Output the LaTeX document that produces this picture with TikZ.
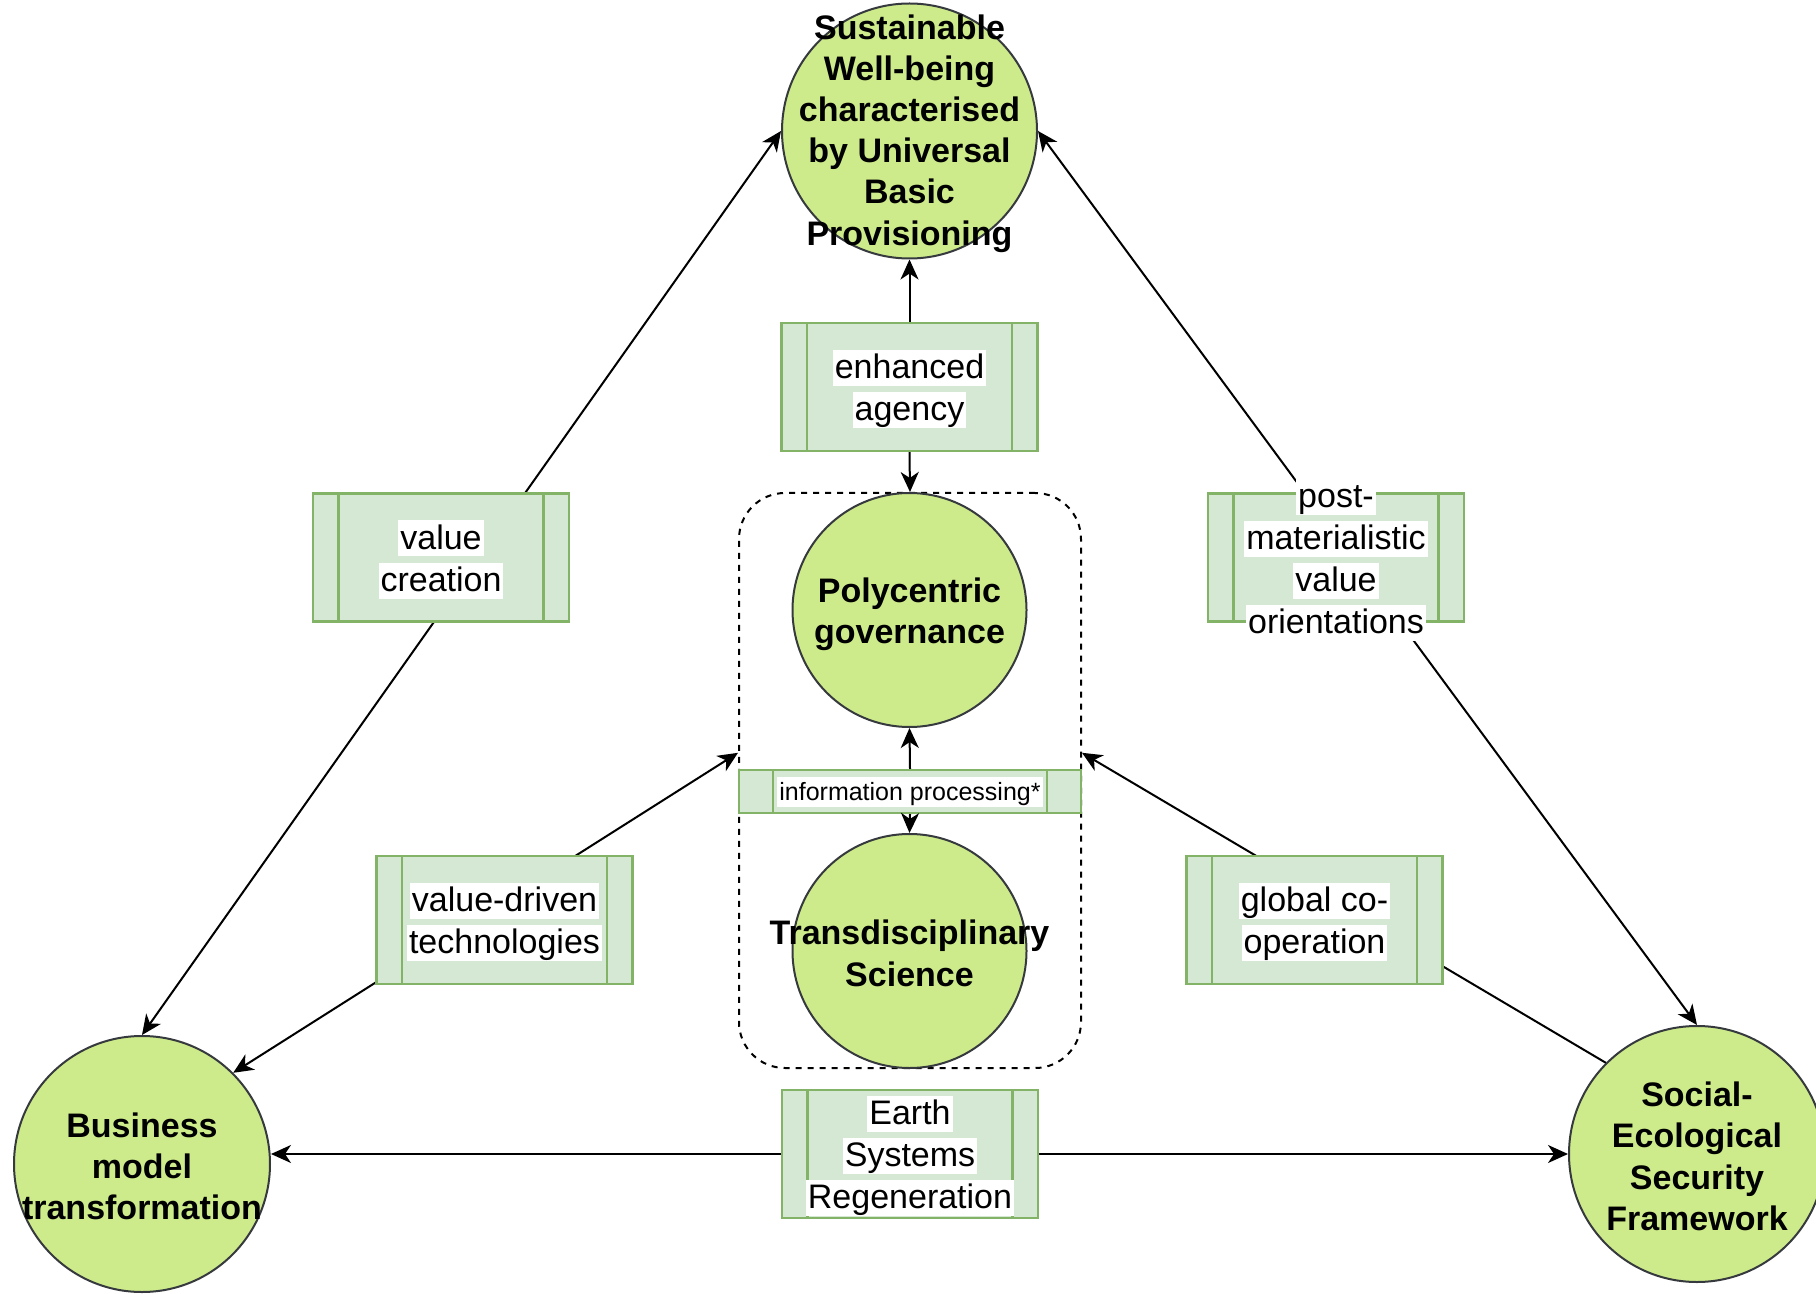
\documentclass[tikz,border=0pt]{standalone}
\usepackage{fontspec}
\setmainfont{Liberation Sans}
\usetikzlibrary{arrows.meta,calc}
\definecolor{cfill}{HTML}{CDEB8B}
\definecolor{cstroke}{HTML}{36393D}
\definecolor{pfill}{HTML}{D5E8D4}
\definecolor{pstroke}{HTML}{82B366}
\newcommand\hlw[1]{{\setlength{\fboxsep}{0pt}\colorbox{white}{\kern1pt\rule[-3.5pt]{0pt}{18pt}#1\kern1pt}}}
\newcommand\hls[1]{{\setlength{\fboxsep}{0pt}\colorbox{white}{\kern1pt\rule[-3pt]{0pt}{15pt}#1\kern1pt}}}
\begin{document}
\begin{tikzpicture}[x=0.5pt,y=-0.5pt,
  circ/.style={circle,draw=cstroke,fill=cfill,line width=1pt,inner sep=0pt},
  ctext/.style={font=\fontsize{17}{20.6}\selectfont\bfseries,align=center,inner sep=0pt,yshift=-1.2pt},
  procbox/.style={rectangle,draw=pstroke,fill=pfill,line width=1.2pt,inner sep=0pt,
    minimum width=128pt,minimum height=64pt,
    path picture={\draw[pstroke,line width=1.2pt]
      ($(path picture bounding box.north west)!0.1!(path picture bounding box.north east)$) --
      ($(path picture bounding box.south west)!0.1!(path picture bounding box.south east)$)
      ($(path picture bounding box.north west)!0.9!(path picture bounding box.north east)$) --
      ($(path picture bounding box.south west)!0.9!(path picture bounding box.south east)$);}},
  ptext/.style={font=\fontsize{17}{21}\selectfont,align=center,inner sep=0pt,yshift=-1pt},
  conn/.style={line width=1pt,draw=black},
  arr/.style={conn,-{Stealth[length=10pt,width=9pt,inset=3pt]}},
  darr/.style={conn,{Stealth[length=10pt,width=9pt,inset=3pt]}-{Stealth[length=10pt,width=9pt,inset=3pt]}},
  contbox/.style={rectangle,draw=black,line width=1pt,dash pattern=on 3pt off 3pt,rounded corners=23pt,
    minimum width=171pt,minimum height=287.5pt,inner sep=0pt}
]
\fill[white] (0,0) rectangle (1816,1294);
\useasboundingbox (0,0) rectangle (1816,1294);

% container
\node[contbox] (cont) at (910,780.5) {};

% circles
\node[circ,minimum size=127.5pt] (top) at (909.5,131) {};
\node[circ,minimum size=117pt] (poly) at (909.5,610) {};
\node[circ,minimum size=117pt] (trans) at (909.5,951) {};
\node[circ,minimum size=128pt] (bus) at (142,1164) {};
\node[circ,minimum size=128pt] (soc) at (1697,1154) {};

\node[ctext] (topT) at (top) {Sustainable\\Well-being\\characterised\\by Universal\\Basic\\Provisioning};
\node[ctext,yshift=-0.8pt] (polyT) at (poly) {Polycentric\\governance};
\node[ctext] (transT) at (trans) {Transdisciplinary\\Science};
\node[ctext] (busT) at (bus) {Business\\model\\transformation};
\node[ctext] (socT) at (soc) {Social-\\Ecological\\Security\\Framework};

% helper coordinates on the container sides
\coordinate (contL) at ($(cont.north west)!0.452!(cont.south west)$);
\coordinate (contR) at ($(cont.north east)!0.452!(cont.south east)$);
\coordinate (busE) at (bus.east |- soc.west);

% connectors (drawn under the process boxes)
\draw[darr] (bus.north) -- (top.west);
\draw[darr] (top.east) -- (soc.north);
\draw[darr] (bus.45) -- (contL);
\draw[arr] (soc.135) -- (contR);
\draw[darr] (busE) -- (soc.west);

% process boxes
\node[procbox] (ea) at (909.5,387) {};
\node[procbox] (vc) at (441,557.5) {};
\node[procbox] (pm) at (1336,557.5) {};
\node[procbox] (vd) at (504.5,920) {};
\node[procbox] (gc) at (1314.5,920) {};
\node[procbox] (es) at (910,1154) {};
\node[procbox,minimum height=21.5pt,minimum width=171pt] (info) at (910,791.5) {};

\node[ptext] (eaT) at (ea) {\hlw{enhanced}\\\hlw{agency}};
\node[ptext] (vcT) at (vc) {\hlw{value}\\\hlw{creation}};
\node[ptext] (pmT) at (pm) {\hlw{post-}\\\hlw{materialistic}\\\hlw{value}\\\hlw{orientations}};
\node[ptext] (vdT) at (vd) {\hlw{value-driven}\\\hlw{technologies}};
\node[ptext] (gcT) at (gc) {\hlw{global co-}\\\hlw{operation}};
\node[ptext] (esT) at (es) {\hlw{Earth}\\\hlw{Systems}\\\hlw{Regeneration}};
\node[font=\fontsize{12.5}{15}\selectfont,inner sep=0pt] (infoT) at (info) {\hls{information processing*}};

% vertical arrows
\draw[arr] (ea.north) -- (top.south);
\draw[arr] (ea.south) -- (cont.north);
\draw[arr] (info.north) -- (poly.south);
\draw[arr] (info.south) -- (trans.north);
\end{tikzpicture}
\end{document}
